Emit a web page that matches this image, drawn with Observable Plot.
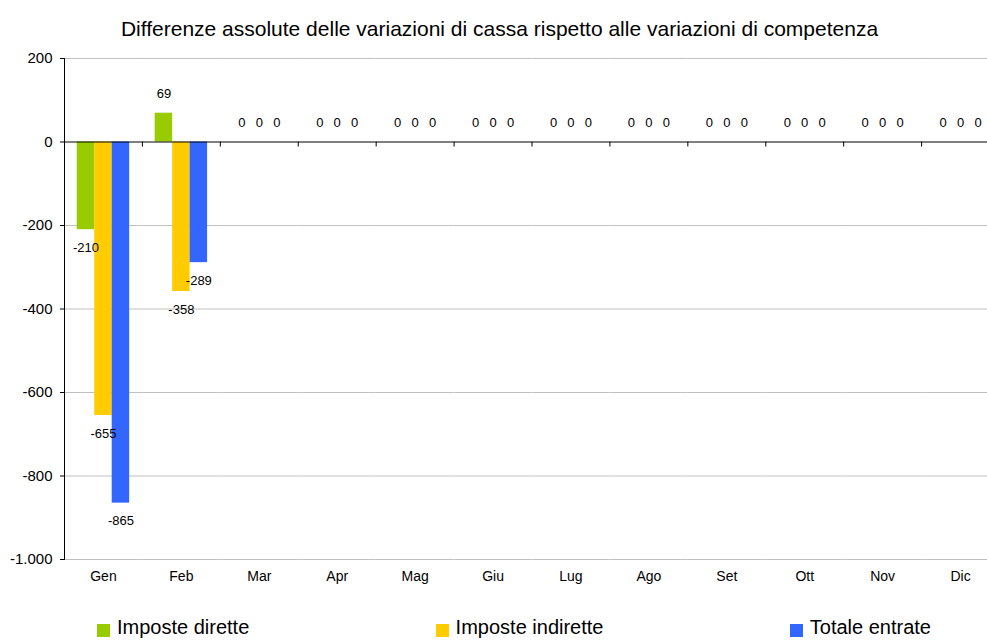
<!DOCTYPE html>
<html>
<head>
<meta charset="utf-8">
<script src="https://cdn.jsdelivr.net/npm/d3@7"></script>
<script src="https://cdn.jsdelivr.net/npm/@observablehq/plot@0.6"></script>
<style>
  html, body { margin: 0; padding: 0; background: #fff; }
  body { width: 987px; height: 640px; overflow: hidden; font-family: 'Liberation Sans', Arial, sans-serif; color: #000; }
  #title { box-sizing: border-box; height: 40px; padding-top: 17px; padding-left: 12px; font-size: 21px; line-height: 24px; text-align: center; white-space: nowrap; }
  #chart svg { display: block; }
  #legend { box-sizing: border-box; height: 28px; padding: 3px 56px 0 97px; display: flex; justify-content: space-between; font-size: 20px; line-height: 24px; white-space: nowrap; }
  #legend .sw { display: inline-block; width: 13px; height: 13px; margin-right: 7px; vertical-align: -3px; }
</style>
</head>
<body>
<div id="title">Differenze assolute delle variazioni di cassa rispetto alle variazioni di competenza</div>
<div id="chart"></div>
<div id="legend"></div>
<script>
// ---- data ----
const months = ["Gen", "Feb", "Mar", "Apr", "Mag", "Giu", "Lug", "Ago", "Set", "Ott", "Nov", "Dic"];
const series = ["Imposte dirette", "Imposte indirette", "Totale entrate"];
const impostedirette   = [-210,   69, 0, 0, 0, 0, 0, 0, 0, 0, 0, 0];
const imposteindirette = [-655, -358, 0, 0, 0, 0, 0, 0, 0, 0, 0, 0];
const totaleentrate    = [-865, -289, 0, 0, 0, 0, 0, 0, 0, 0, 0, 0];
const yTicks = [200, 0, -200, -400, -600, -800, -1000];
const yDomain = [-1000, 200];
const colors = ["#99CC00", "#FFCC00", "#3366FF"];

const seriesValues = [impostedirette, imposteindirette, totaleentrate];
const table = months.flatMap((m, i) => series.map((s, j) => ({month: m, series: s, value: seriesValues[j][i]})));

const fmt = d3.formatLocale({decimal: ",", thousands: ".", grouping: [3], currency: ["", "€"], minus: "-"}).format(",");

const W = 987, H = 572, mTop = 18, mBottom = 53, mLeft = 64, mRight = -12;
const innerH = H - mTop - mBottom;
const zeroOffset = innerH * (yDomain[1] - 0) / (yDomain[1] - yDomain[0]);

const chart = Plot.plot({
  width: W,
  height: H,
  marginTop: mTop,
  marginBottom: mBottom,
  marginLeft: mLeft,
  marginRight: mRight,
  style: {fontFamily: "'Liberation Sans', Arial, sans-serif", fontSize: "13px", background: "#fff", color: "#000"},
  fx: {domain: months, padding: 0, round: false, axis: null, label: null},
  x: {domain: series, paddingInner: 0, paddingOuter: 0.73, round: false, axis: null},
  y: {domain: yDomain, axis: null},
  color: {domain: series, range: colors},
  marks: [
    Plot.gridY(yTicks.filter(d => d !== 0), {stroke: "#c0c0c0", strokeOpacity: 1}),
    Plot.barY(table, {fx: "month", x: "series", y: "value", fill: "series"}),
    Plot.ruleY([0], {stroke: "#000"}),
    Plot.frame({anchor: "left", facetAnchor: "left", stroke: "#000"}),
    Plot.frame({anchor: "left", stroke: "#000", insetTop: zeroOffset, insetBottom: innerH - zeroOffset - 4}),
    Plot.text(table, {filter: d => d.value >= 0, fx: "month", x: "series", y: "value", text: d => fmt(d.value), dy: -19, fontSize: 13}),
    Plot.text(table, {filter: d => d.value < 0, fx: "month", x: "series", y: "value", text: d => fmt(d.value), dy: 18, fontSize: 13}),
    Plot.axisY(yTicks, {tickSize: 4, tickPadding: 8, tickFormat: fmt, fontSize: 15, label: null}),
    Plot.axisFx({anchor: "bottom", tickSize: 0, tickPadding: 12, fontSize: 14, label: null})
  ]
});
document.getElementById("chart").appendChild(chart);

const legend = document.getElementById("legend");
series.forEach((s, i) => {
  const item = document.createElement("span");
  const sw = document.createElement("span");
  sw.className = "sw";
  sw.style.background = colors[i];
  item.appendChild(sw);
  item.appendChild(document.createTextNode(s));
  legend.appendChild(item);
});
</script>
</body>
</html>
